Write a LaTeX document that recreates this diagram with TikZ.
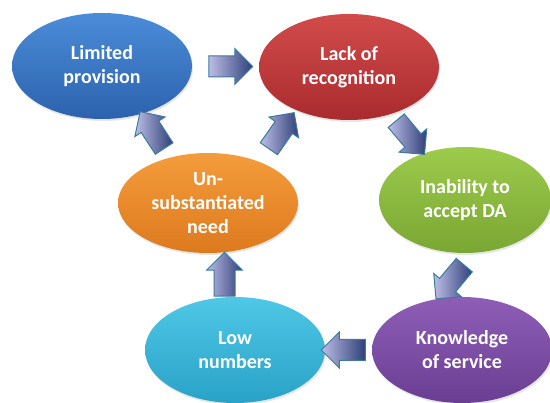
\documentclass[tikz,border=0pt]{standalone}
\usepackage{fontspec}
\setmainfont{Carlito}
\usetikzlibrary{shapes.geometric,shapes.arrows,calc,shadows}

\definecolor{blau1}{HTML}{4B8CD8}\definecolor{blau2}{HTML}{2C62AD}
\definecolor{rot1}{HTML}{D24B4B}\definecolor{rot2}{HTML}{A92B2E}
\definecolor{gruen1}{HTML}{9DCB4C}\definecolor{gruen2}{HTML}{7AA633}
\definecolor{orange1}{HTML}{F49C3C}\definecolor{orange2}{HTML}{DD7A1E}
\definecolor{cyan1}{HTML}{4FC7E6}\definecolor{cyan2}{HTML}{28A2C7}
\definecolor{lila1}{HTML}{8E5EB6}\definecolor{lila2}{HTML}{6A3E93}
\definecolor{pfeilhell}{HTML}{BDBDE6}\definecolor{pfeildunkel}{HTML}{2F4079}
\definecolor{pfeilrand}{HTML}{3B7C9D}

\tikzset{
	blase/.style 2 args={ellipse, minimum width=180pt, minimum height=106pt, inner sep=0pt,
		top color=#1, bottom color=#2, text=white, align=center,
		font=\bfseries\fontsize{20}{24}\selectfont,
		drop shadow={opacity=.2, shadow xshift=1pt, shadow yshift=-2pt}},
	pfeil/.style={single arrow, draw=pfeilrand, line width=1pt, inner xsep=0pt, inner ysep=10pt,
		minimum height=44pt, single arrow head extend=7.5pt,
		left color=pfeilhell, right color=pfeildunkel},
}

\begin{document}
\begin{tikzpicture}[x=1pt, y=-1pt]
	\useasboundingbox (0,0) rectangle (550,403);
	\clip (0,0) rectangle (550,403);
	% Knoten
		\node (1) at (102,66)  [blase={blau1}{blau2}] {Limited\\provision};
		\node (2) at (349,67)  [blase={rot1}{rot2}] {Lack of\\recognition};
		\node (3) at (465,200) [blase={gruen1}{gruen2}, minimum width=172pt] {Inability to\\accept DA};
		\node (4) at (462,350) [blase={lila1}{lila2}] {Knowledge\\of service};
		\node (5) at (235,350) [blase={cyan1}{cyan2}] {Low\\numbers};
		\node (6) at (208,203) [blase={orange1}{orange2}, minimum height=100pt] {Un-\\substantiated\\need};
	% Pfeile
		\node (12) at ($(1)!.5!(2)$) [pfeil] {};
		\node (23) at ($(2)!.5!(3)$) [pfeil, rotate=-50] {};
		\node (34) at ($(3)!.5!(4)+(-10,3)$) [pfeil, rotate=230] {};
		\node (45) at ($(4)!.5!(5)$) [pfeil, rotate=180] {};
		\node (56) at ($(5)!.5!(6)+(3,3)$) [pfeil, rotate=90] {};
		\node (61) at ($(6)!.5!(1)$) [pfeil, rotate=123] {};
		\node (62) at ($(6)!.5!(2)$) [pfeil, rotate=55] {};
\end{tikzpicture}
\end{document}
